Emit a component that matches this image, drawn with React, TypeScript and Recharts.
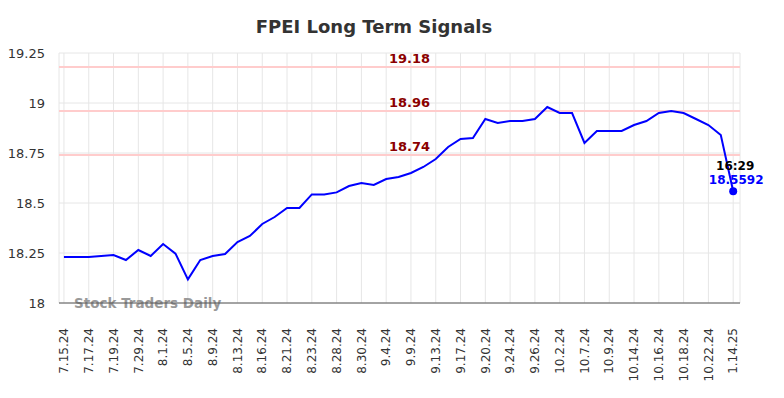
import React from 'react';
import {
    LineChart, Line, XAxis, YAxis, CartesianGrid, ReferenceLine, Customized,
} from 'recharts';

const tickLabels = [
    '7.15.24', '7.17.24', '7.19.24', '7.29.24', '8.1.24', '8.5.24', '8.9.24',
    '8.13.24', '8.16.24', '8.21.24', '8.23.24', '8.28.24', '8.30.24', '9.4.24',
    '9.9.24', '9.13.24', '9.17.24', '9.20.24', '9.24.24', '9.26.24', '10.2.24',
    '10.7.24', '10.9.24', '10.14.24', '10.16.24', '10.18.24', '10.22.24', '1.14.25',
];

const prices = [
    18.23, 18.23, 18.23, 18.235, 18.24, 18.215, 18.265, 18.235, 18.295, 18.247,
    18.118, 18.215, 18.235, 18.245, 18.305, 18.335, 18.395, 18.43, 18.475, 18.475,
    18.543, 18.543, 18.553, 18.585, 18.6, 18.59, 18.62, 18.63, 18.65, 18.68,
    18.72, 18.78, 18.82, 18.825, 18.92, 18.9, 18.91, 18.91, 18.92, 18.98,
    18.95, 18.95, 18.8, 18.86, 18.86, 18.86, 18.89, 18.91, 18.95, 18.96,
    18.95, 18.92, 18.89, 18.84, 18.5592,
];

const signals = [19.18, 18.96, 18.74];
const yTicks = [18, 18.25, 18.5, 18.75, 19, 19.25];
const lastTime = '16:29';

const data = prices.map((p, i) => ({ idx: i, price: p }));
const xTicks = tickLabels.map((_, i) => i * 2);

const font = 'DejaVu Sans, sans-serif';

const XTick = (props: any) => {
    const { x, y, payload } = props;
    const label = tickLabels[payload.value / 2];
    return (
        <text
            x={x}
            y={y}
            transform={`rotate(-90, ${x}, ${y})`}
            textAnchor="end"
            dy="0.35em"
            fontSize={12}
            fill="#333"
            fontFamily={font}
        >
            {label}
        </text>
    );
};

const LastDot = (props: any) => {
    const { cx, cy, index } = props;
    if (index !== prices.length - 1) return <g key={index} />;
    return (
        <g key={index}>
            <circle cx={cx} cy={cy} r={4} fill="#0000ff" />
            <text x={cx + 2} y={cy - 21} textAnchor="middle" fontSize={12} fontWeight="bold" fill="#000" fontFamily={font}>
                {lastTime}
            </text>
            <text x={cx + 3} y={cy - 7} textAnchor="middle" fontSize={12} fontWeight="bold" fill="#0000ff" fontFamily={font}>
                {prices[prices.length - 1]}
            </text>
        </g>
    );
};

const signalLabel = (value: number) => (props: any) => {
    const { viewBox } = props;
    return (
        <text
            x={viewBox.x + viewBox.width / 2 + 10}
            y={viewBox.y - 4}
            textAnchor="middle"
            fontSize={13}
            fontWeight="bold"
            fill="#8b0000"
            fontFamily={font}
        >
            {value}
        </text>
    );
};

const Watermark = (props: any) => {
    const offset = props.offset || {};
    return (
        <text
            x={(offset.left ?? 59) + 15}
            y={(offset.top ?? 53) + (offset.height ?? 250) + 5}
            fontSize={13.5}
            fontWeight="bold"
            fill="#999"
            fontFamily={font}
        >
            Stock Traders Daily
        </text>
    );
};

export default function App() {
    return (
        <div style={{ position: 'absolute', left: 0, top: 0, width: 784, height: 398, background: '#fff' }}>
            <div
                style={{
                    position: 'absolute', top: 16, left: 0, width: 748, textAlign: 'center',
                    fontFamily: font, fontWeight: 'bold', fontSize: 18, color: '#333',
                }}
            >
                FPEI Long Term Signals
            </div>
            <LineChart
                width={784}
                height={398}
                data={data}
                margin={{ top: 53, right: 44, left: 0, bottom: 0 }}
            >
                <CartesianGrid stroke="#e6e6e6" strokeWidth={1} />
                <Customized component={Watermark} />
                <XAxis
                    dataKey="idx"
                    type="number"
                    domain={[-0.4, 54.55]}
                    ticks={xTicks}
                    interval={0}
                    height={95}
                    tick={<XTick />}
                    tickLine={false}
                    tickMargin={19}
                    axisLine={{ stroke: '#555', strokeWidth: 1 }}
                />
                <YAxis
                    domain={[18, 19.25]}
                    ticks={yTicks}
                    width={59}
                    axisLine={false}
                    tickLine={false}
                    tickSize={0}
                    tickMargin={14}
                    tick={{ fontSize: 13, fill: '#333', fontFamily: font }}
                />
                {signals.map((s) => (
                    <ReferenceLine
                        key={s}
                        y={s}
                        stroke="#ffcccc"
                        strokeWidth={2}
                        label={signalLabel(s)}
                    />
                ))}
                <Line
                    type="linear"
                    dataKey="price"
                    stroke="#0000ff"
                    strokeWidth={2}
                    dot={LastDot}
                    activeDot={false}
                    isAnimationActive={false}
                />
            </LineChart>
        </div>
    );
}
